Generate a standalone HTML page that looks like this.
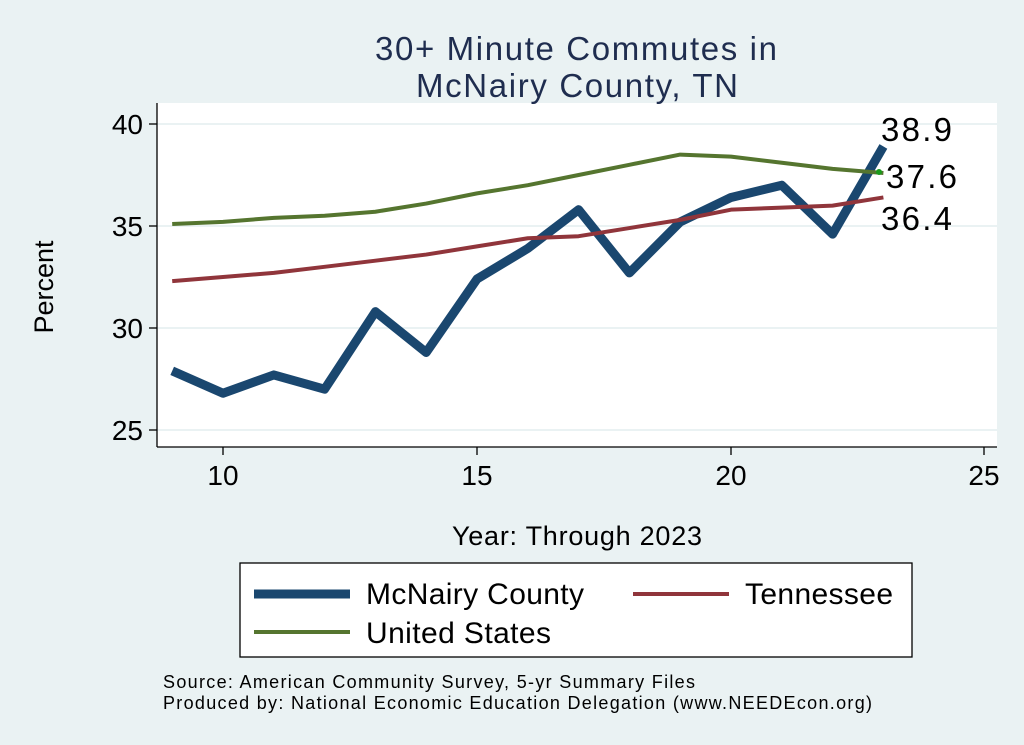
<!DOCTYPE html>
<html><head><meta charset="utf-8"><style>
body{margin:0;background:#eaf2f3;}
svg{display:block;font-family:"Liberation Sans",sans-serif;}
</style></head><body>
<svg width="1024" height="745" viewBox="0 0 1024 745">
<rect width="1024" height="745" fill="#eaf2f3"/>
<rect x="157" y="103" width="840" height="344" fill="#fff"/>
<g stroke="#eaf2f3" stroke-width="2">
<line x1="157" x2="997" y1="124" y2="124"/><line x1="157" x2="997" y1="226" y2="226"/>
<line x1="157" x2="997" y1="328" y2="328"/><line x1="157" x2="997" y1="430" y2="430"/>
</g>
<g stroke="#000" stroke-width="1.3">
<line x1="157" x2="157" y1="103" y2="447"/><line x1="157" x2="997" y1="447" y2="447"/>
<line x1="149" x2="157" y1="124" y2="124"/><line x1="149" x2="157" y1="226" y2="226"/>
<line x1="149" x2="157" y1="328" y2="328"/><line x1="149" x2="157" y1="430" y2="430"/>
<line x1="223" x2="223" y1="447" y2="455"/><line x1="477" x2="477" y1="447" y2="455"/>
<line x1="731" x2="731" y1="447" y2="455"/><line x1="984" x2="984" y1="447" y2="455"/>
</g>
<g font-size="28" text-anchor="end"><text x="143" y="134">40</text><text x="143" y="236">35</text><text x="143" y="338">30</text><text x="143" y="440">25</text></g>
<g font-size="28" text-anchor="middle"><text x="223" y="485">10</text><text x="477" y="485">15</text><text x="731" y="485">20</text><text x="984" y="485">25</text></g>
<text x="452" y="545" font-size="27" textLength="250">Year: Through 2023</text>
<text transform="translate(53,287) rotate(-90)" font-size="27" text-anchor="middle">Percent</text>
<text x="375" y="60" font-size="33" fill="#1f2d4f" textLength="402">30+ Minute Commutes in</text>
<text x="416" y="97" font-size="33" fill="#1f2d4f" textLength="322">McNairy County, TN</text>
<g transform="matrix(50.8 0 0 -20.4 -285 940)" fill="none" stroke-linejoin="round">
<polyline vector-effect="non-scaling-stroke" stroke="#1a476f" stroke-width="9" points="9,27.9 10,26.8 11,27.7 12,27.0 13,30.8 14,28.8 15,32.4 16,33.9 17,35.8 18,32.7 19,35.2 20,36.4 21,37.0 22,34.6 23,38.9"/>
<polyline vector-effect="non-scaling-stroke" stroke="#90353b" stroke-width="4" points="9,32.3 10,32.5 11,32.7 12,33.0 13,33.3 14,33.6 15,34.0 16,34.4 17,34.5 18,34.9 19,35.3 20,35.8 21,35.9 22,36.0 23,36.4"/>
<polyline vector-effect="non-scaling-stroke" stroke="#55752f" stroke-width="4" points="9,35.1 10,35.2 11,35.4 12,35.5 13,35.7 14,36.1 15,36.6 16,37.0 17,37.5 18,38.0 19,38.5 20,38.4 21,38.1 22,37.8 23,37.6"/>
</g>
<circle cx="879" cy="172" r="3" fill="#1a9a1a"/>
<g font-size="33"><text x="881" y="141" textLength="71">38.9</text><text x="886" y="188" textLength="71">37.6</text><text x="881" y="230" textLength="71">36.4</text></g>
<rect x="240" y="563" width="672" height="94" fill="#fff" stroke="#000" stroke-width="1.3"/>
<line x1="254" x2="350" y1="594" y2="594" stroke="#1a476f" stroke-width="9"/>
<text x="366" y="604" font-size="30" textLength="218">McNairy County</text>
<line x1="633" x2="729" y1="594" y2="594" stroke="#90353b" stroke-width="4"/>
<text x="745" y="604" font-size="30" textLength="148">Tennessee</text>
<line x1="254" x2="350" y1="632" y2="632" stroke="#55752f" stroke-width="4"/>
<text x="366" y="643" font-size="30" textLength="185">United States</text>
<text x="163" y="688" font-size="18" textLength="532">Source: American Community Survey, 5-yr Summary Files</text>
<text x="163" y="709" font-size="18" textLength="709">Produced by: National Economic Education Delegation (www.NEEDEcon.org)</text>
</svg>
</body></html>
